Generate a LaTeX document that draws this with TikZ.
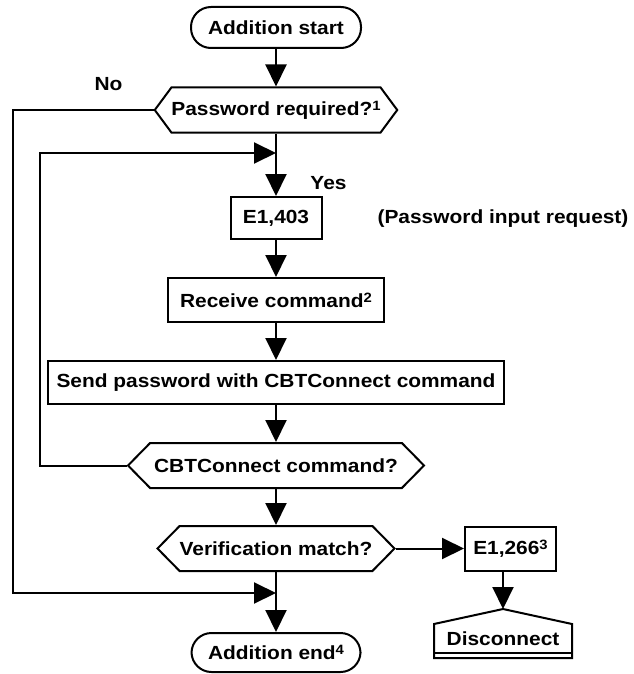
\documentclass[tikz,border=0pt]{standalone}
\usepackage{fontspec}
\setmainfont{Liberation Sans}[FakeStretch=1.1]
\usetikzlibrary{arrows.meta,shapes.symbols}
\newcommand\mysup[1]{\raisebox{5pt}{\fontsize{13.5}{13.5}\selectfont #1}}
\begin{document}
\begin{tikzpicture}[x=1pt,y=-1pt,line width=2pt,
  every node/.style={font=\fontsize{19}{22}\selectfont\bfseries,inner sep=0pt},
  box/.style={draw,rectangle},
  term/.style={draw,rectangle,rounded corners=20pt,minimum width=170pt,minimum height=41pt},
  hex/.style 2 args={draw,signal,signal to=west and east,signal pointer angle=#2,minimum width=#1,minimum height=45pt},
  arr/.style={-{Triangle[length=22pt,width=21pt]}}]
\useasboundingbox (0,0) rectangle (633,674);
% nodes
\node[term] (start) at (276,27.5) {Addition start};
\node[hex={242pt}{107}] (d1) at (276,110) {Password required?\mysup{1}};
\coordinate (m1) at (276,153);
\node[box,minimum width=91pt,minimum height=42pt] (e1) at (276,218) {E1,403};
\node (note) at (503,219) {(Password input request)};
\node[box,minimum width=216pt,minimum height=44pt] (rc) at (276,300) {Receive command\mysup{2}};
\node[box,minimum width=456pt,minimum height=43pt] (sp) at (276,382.5) {Send password with CBTConnect command};
\node[hex={296pt}{91}] (d2) at (276,465.5) {CBTConnect command?};
\node[hex={216pt}{91}] (d3) at (276,548.5) {Verification match?};
\node[box,minimum width=91pt,minimum height=44pt] (e2) at (510.5,548.5) {E1,266\mysup{3}};
\node[minimum width=136pt,minimum height=27pt] (dis) at (503,638.5) {Disconnect};
\coordinate (m2) at (276,593);
\node[term,minimum width=169pt,minimum height=39pt] (end) at (276,652.5) {Addition end\mysup{4}};
\node (no) at (108.5,84) {No};
\node (yes) at (328.5,183.5) {Yes};
\coordinate (l1) at (13,593);
\coordinate (l2) at (40,153);
% disconnect outline
\draw (dis.north west) -- ([yshift=15pt]dis.north) -- (dis.north east) -- ([yshift=-5pt]dis.south east) -- ([yshift=-5pt]dis.south west) -- cycle;
\draw (dis.south west) -- (dis.south east);
% connectors
\draw[arr] (start.south) -- (d1.north);
\draw[arr] (d1.south) -- (e1.north);
\draw[arr] (e1.south) -- (rc.north);
\draw[arr] (rc.south) -- (sp.north);
\draw[arr] (sp.south) -- (d2.north);
\draw[arr] (d2.south) -- (d3.north);
\draw[arr] (d3.south) -- (end.north);
\draw[arr] (d3.east) -- (e2.west);
\draw[arr] (dis.north |- e2.south) -- ([yshift=15pt]dis.north);
\draw[arr] (d2.west) -| (l2) -- (m1);
\draw[arr] (d1.west) -| (l1) -- (m2);
\end{tikzpicture}
\end{document}
